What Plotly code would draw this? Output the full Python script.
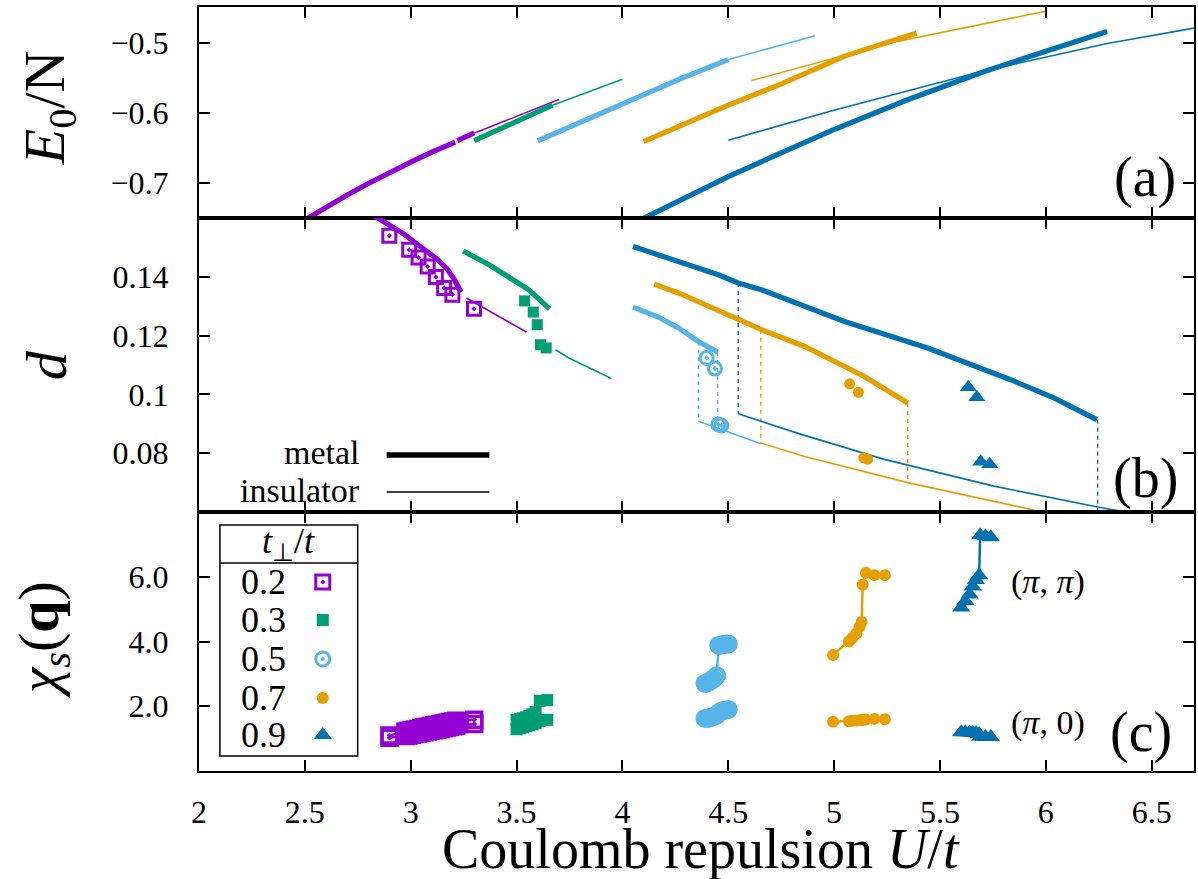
import plotly.graph_objects as go

# ---------------- colours ----------------
PURPLE = '#9400D3'; GREEN = '#009E73'; LBLUE = '#56B4E9'; ORANGE = '#E69F00'; BLUE = '#0072B2'
FONT = 'Liberation Serif'

# ---------------- panel (a): E0/N ----------------
a_p_met_U = [2.50, 2.60, 2.70, 2.80, 2.90, 3.00, 3.10, 3.21, None, 3.22, 3.30]
a_p_met_E = [-0.7527, -0.7346, -0.7173, -0.7008, -0.6851, -0.6702, -0.6561, -0.6417, None, -0.6395, -0.6285]
a_p_ins_U = [3.30, 3.70]
a_p_ins_E = [-0.6290, -0.5810]
a_g_met_U = [3.30, 3.67]
a_g_met_E = [-0.6396, -0.5890]
a_g_ins_U = [3.67, 4.00]
a_g_ins_E = [-0.5890, -0.5520]
a_l_met_U = [3.60, 4.00, 4.27, 4.50]
a_l_met_E = [-0.6400, -0.5870, -0.5520, -0.5240]
a_l_ins_U = [4.50, 4.91]
a_l_ins_E = [-0.5240, -0.4900]
a_o_met_U = [4.10, 4.27, 4.50, 4.74, 5.05, 5.39]
a_o_met_E = [-0.6410, -0.6190, -0.5890, -0.5600, -0.5190, -0.4860]
a_o_ins_U = [4.61, 5.27, 6.00]
a_o_ins_E = [-0.5540, -0.5000, -0.4550]
a_b_met_U = [4.09, 4.27, 4.50, 4.75, 4.99, 5.35, 5.71, 6.00, 6.29]
a_b_met_E = [-0.7520, -0.7250, -0.6910, -0.6570, -0.6250, -0.5810, -0.5410, -0.5120, -0.4840]
a_b_ins_U = [4.50, 4.99, 5.71, 6.29, 6.72]
a_b_ins_E = [-0.6390, -0.5970, -0.5400, -0.5010, -0.4780]

# ---------------- panel (b): d ----------------
b_p_met_U = [2.82, 2.844, 2.963, 3.056, 3.128, 3.175, 3.207, 3.238]
b_p_met_d = [0.1612, 0.1600, 0.1548, 0.1497, 0.1458, 0.1424, 0.1390, 0.1348]
b_p_ins_U = [3.263, 3.547]
b_p_ins_d = [0.1328, 0.1212]
b_p_pts_U = [2.899, 2.993, 3.037, 3.080, 3.119, 3.158, 3.197, 3.299]
b_p_pts_d = [0.1540, 0.1492, 0.1466, 0.1435, 0.1399, 0.1362, 0.1339, 0.1291]

b_g_met_U = [3.248, 3.370, 3.558, 3.606, 3.656]
b_g_met_d = [0.1488, 0.1441, 0.1356, 0.1322, 0.1291]
b_g_ins_U = [3.684, 3.747, 3.948]
b_g_ins_d = [0.1152, 0.1124, 0.1054]
b_g_pts_U = [3.538, 3.579, 3.598, 3.613, 3.640]
b_g_pts_d = [0.1318, 0.1280, 0.1237, 0.1169, 0.1158]

b_l_met_U = [4.050, 4.170, 4.265, 4.359, 4.450]
b_l_met_d = [0.1297, 0.1263, 0.1226, 0.1180, 0.1144]
b_l_ins_U = [4.359, 4.654]
b_l_ins_d = [0.0909, 0.0832]
b_l_pts_U = [4.398, 4.437, 4.453, 4.467]
b_l_pts_d = [0.1124, 0.1088, 0.0898, 0.0894]
b_l_tr_U = [4.359, 4.450]
b_l_tr_top = [0.1180, 0.1144]
b_l_tr_bot = [0.0909, 0.0895]

b_o_met_U = [4.150, 4.265, 4.657, 4.861, 5.143, 5.348]
b_o_met_d = [0.1375, 0.1345, 0.1220, 0.1163, 0.1061, 0.0971]
b_o_ins_U = [4.654, 4.861, 5.348, 5.928, 5.970]
b_o_ins_d = [0.0835, 0.0789, 0.0700, 0.0609, 0.0598]
b_o_pts_U = [5.073, 5.115, 5.140, 5.159]
b_o_pts_d = [0.1036, 0.1007, 0.0784, 0.0779]
b_o_tr_U = [4.654, 5.348]
b_o_tr_top = [0.1220, 0.0971]
b_o_tr_bot = [0.0835, 0.0700]

b_b_met_U = [4.050, 4.265, 4.453, 4.547, 4.657, 5.049, 5.442, 5.834, 6.038, 6.241]
b_b_met_d = [0.1503, 0.1452, 0.1407, 0.1379, 0.1356, 0.1248, 0.1158, 0.1050, 0.0988, 0.0914]
b_b_ins_U = [4.547, 4.845, 5.237, 5.755, 6.245, 6.352, 6.400]
b_b_ins_d = [0.0934, 0.0864, 0.0779, 0.0688, 0.0617, 0.0603, 0.0592]
b_b_pts_U = [5.634, 5.674, 5.693, 5.735]
b_b_pts_d = [0.1024, 0.0990, 0.0771, 0.0762]
b_b_tr_U = [4.547, 6.245]
b_b_tr_top = [0.1379, 0.0914]
b_b_tr_bot = [0.0934, 0.0600]

# ---------------- panel (c): chi_s(q) ----------------
c_p_U = [2.90, 2.975, 2.99, 3.005, 3.02, 3.035, 3.05, 3.065, 3.08, 3.095, 3.11,
         3.125, 3.14, 3.155, 3.17, 3.185, 3.20, 3.215, 3.30]
c_p_pp = [1.10, 1.22, 1.24, 1.26, 1.28, 1.30, 1.33, 1.35, 1.37, 1.39, 1.41,
          1.43, 1.45, 1.47, 1.49, 1.51, 1.53, 1.55, 1.58]
c_p_p0 = [1.03, 1.08, 1.10, 1.12, 1.14, 1.16, 1.18, 1.20, 1.22, 1.24, 1.26,
          1.28, 1.30, 1.32, 1.34, 1.36, 1.38, 1.40, 1.45]

c_g_U = [3.50, 3.515, 3.53, 3.545, 3.56, 3.575, 3.59, 3.61, 3.645]
c_g_pp = [1.58, 1.60, 1.63, 1.66, 1.70, 1.75, 1.82, 2.17, 2.19]
c_g_p0 = [1.29, 1.32, 1.35, 1.38, 1.41, 1.44, 1.48, 1.55, 1.58]

c_l_U = [4.39, 4.40, 4.41, 4.42, 4.43, 4.445, 4.455, 4.47, 4.48, 4.49, 4.50]
c_l_pp = [2.70, 2.72, 2.76, 2.80, 2.84, 2.94, 3.88, 3.90, 3.91, 3.92, 3.92]
c_l_p0 = [1.62, 1.63, 1.64, 1.66, 1.68, 1.72, 1.80, 1.85, 1.87, 1.88, 1.90]

c_o_U = [4.995, 5.07, 5.085, 5.105, 5.12, 5.13, 5.135, 5.15, 5.19, 5.24]
c_o_pp = [3.58, 4.00, 4.10, 4.25, 4.45, 4.60, 5.75, 6.12, 6.05, 6.05]
c_o_p0 = [1.52, 1.54, 1.55, 1.56, 1.57, 1.57, 1.58, 1.59, 1.61, 1.60]

c_b_U = [5.60, 5.62, 5.64, 5.655, 5.67, 5.685, 5.69, 5.715, 5.74]
c_b_pp = [5.05, 5.25, 5.45, 5.70, 5.90, 6.05, 7.28, 7.25, 7.22]
c_b_p0 = [1.20, 1.20, 1.19, 1.18, 1.17, 1.14, 1.06, 1.05, 1.05]

# ---------------- tick labels ----------------
x_ticks = [2, 2.5, 3, 3.5, 4, 4.5, 5, 5.5, 6, 6.5]
x_ticktext = ['2', '2.5', '3', '3.5', '4', '4.5', '5', '5.5', '6', '6.5']
a_ticks = [-0.7, -0.6, -0.5]
a_ticktext = ['\u22120.7', '\u22120.6', '\u22120.5']
b_ticks = [0.08, 0.10, 0.12, 0.14]
b_ticktext = ['0.08', '0.1', '0.12', '0.14']
c_ticks = [2, 4, 6]
c_ticktext = ['2.0', '4.0', '6.0']

tperp_labels = ['0.2', '0.3', '0.5', '0.7', '0.9']
colors = [PURPLE, GREEN, LBLUE, ORANGE, BLUE]
symbols = ['square-open-dot', 'square', 'circle-open-dot', 'circle', 'triangle-up']
msizes_b = [13, 11, 13, 11, 15]
msizes_c = [15, 12, 15, 12, 16]
mlw_b = [3, 0, 3, 0, 0]
mlw_c = [3.5, 0, 4, 0, 0]

THICK = 5.2
THIN = 1.6

fig = go.Figure()


def line(U, y, color, width, ax, dash=None):
    fig.add_trace(go.Scatter(x=U, y=y, mode='lines', xaxis=ax[0], yaxis=ax[1],
                             line=dict(color=color, width=width, dash=dash),
                             showlegend=False, hoverinfo='skip', connectgaps=False))


def marks(U, y, i, ax, sizes, lws, mode='markers', lw=2.5):
    fig.add_trace(go.Scatter(x=U, y=y, mode=mode, xaxis=ax[0], yaxis=ax[1],
                             line=dict(color=colors[i], width=lw),
                             marker=dict(symbol=symbols[i], size=sizes[i], color=colors[i],
                                         line=dict(color=colors[i], width=lws[i])),
                             showlegend=False, hoverinfo='skip', cliponaxis=False))


AA = ('x', 'y'); BB = ('x2', 'y2'); CC = ('x3', 'y3')

# panel (a)
line(a_p_met_U, a_p_met_E, PURPLE, THICK, AA); line(a_p_ins_U, a_p_ins_E, PURPLE, THIN, AA)
line(a_g_met_U, a_g_met_E, GREEN, THICK, AA); line(a_g_ins_U, a_g_ins_E, GREEN, THIN, AA)
line(a_l_met_U, a_l_met_E, LBLUE, THICK, AA); line(a_l_ins_U, a_l_ins_E, LBLUE, THIN, AA)
line(a_o_met_U, a_o_met_E, ORANGE, THICK, AA); line(a_o_ins_U, a_o_ins_E, ORANGE, THIN, AA)
line(a_b_met_U, a_b_met_E, BLUE, THICK, AA); line(a_b_ins_U, a_b_ins_E, BLUE, THIN, AA)


def trans(U, top, bot, color):
    xs, ys = [], []
    for u, t, b in zip(U, top, bot):
        xs += [u, u, None]; ys += [t, b, None]
    line(xs, ys, color, 1.4, BB, dash='4px,4px')


# panel (b)
trans(b_l_tr_U, b_l_tr_top, b_l_tr_bot, LBLUE)
trans(b_o_tr_U, b_o_tr_top, b_o_tr_bot, ORANGE)
trans(b_b_tr_U, b_b_tr_top, b_b_tr_bot, BLUE)
line(b_p_met_U, b_p_met_d, PURPLE, THICK, BB); line(b_p_ins_U, b_p_ins_d, PURPLE, THIN, BB)
line(b_g_met_U, b_g_met_d, GREEN, THICK, BB); line(b_g_ins_U, b_g_ins_d, GREEN, THIN, BB)
line(b_l_met_U, b_l_met_d, LBLUE, THICK, BB); line(b_l_ins_U, b_l_ins_d, LBLUE, THIN, BB)
line(b_o_met_U, b_o_met_d, ORANGE, THICK, BB); line(b_o_ins_U, b_o_ins_d, ORANGE, THIN, BB)
line(b_b_met_U, b_b_met_d, BLUE, THICK, BB); line(b_b_ins_U, b_b_ins_d, BLUE, THIN, BB)
marks(b_p_pts_U, b_p_pts_d, 0, BB, msizes_b, mlw_b)
marks(b_g_pts_U, b_g_pts_d, 1, BB, msizes_b, mlw_b)
marks(b_l_pts_U, b_l_pts_d, 2, BB, msizes_b, mlw_b)
marks(b_o_pts_U, b_o_pts_d, 3, BB, msizes_b, mlw_b)
marks(b_b_pts_U, b_b_pts_d, 4, BB, msizes_b, mlw_b)

# panel (c)
for i, (U, pp, p0) in enumerate([(c_p_U, c_p_pp, c_p_p0), (c_g_U, c_g_pp, c_g_p0),
                                  (c_l_U, c_l_pp, c_l_p0), (c_o_U, c_o_pp, c_o_p0),
                                  (c_b_U, c_b_pp, c_b_p0)]):
    marks(U, p0, i, CC, msizes_c, mlw_c, mode='lines+markers')
    marks(U, pp, i, CC, msizes_c, mlw_c, mode='lines+markers')

# ---------------- geometry helpers (pixel -> paper) ----------------
L, R, T, B = 199, 2, 7, 108
W, H = 1198, 879
PW, PH = W - L - R, H - T - B


def px(x):
    return (x - L) / PW


def py(y):
    return (H - B - y) / PH


# legend-key markers on an overlay of panel (c), in panel fractions
CY0, CY1 = 512, 771
key_y_px = [582, 620, 659, 698, 735]
key_x_px = 323
for i in range(5):
    fig.add_trace(go.Scatter(x=[px(key_x_px)], y=[(CY1 - key_y_px[i]) / (CY1 - CY0)],
                             mode='markers', xaxis='x4', yaxis='y4',
                             marker=dict(symbol=symbols[i], size=msizes_b[i] + 1, color=colors[i],
                                         line=dict(color=colors[i], width=mlw_b[i])),
                             showlegend=False, hoverinfo='skip', cliponaxis=False))

axis_common = dict(showline=True, linewidth=2, linecolor='black', mirror='ticks',
                   ticks='inside', ticklen=11, tickwidth=1.5, tickcolor='black',
                   showgrid=False, zeroline=False,
                   tickfont=dict(family=FONT, size=32, color='black'))

dom_a = [py(218), 1.0]
dom_b = [py(512), py(218)]
dom_c = [0.0, py(512)]

layout = dict(
    width=W, height=H, margin=dict(l=L, r=R, t=T, b=B),
    paper_bgcolor='white', plot_bgcolor='rgba(0,0,0,0)',
    font=dict(family=FONT, color='black'),
    showlegend=False,
    xaxis=dict(axis_common, domain=[0, 1], range=[2, 6.7], anchor='y',
               tickvals=x_ticks, ticktext=x_ticktext, showticklabels=False),
    yaxis=dict(axis_common, domain=dom_a, range=[-0.75, -0.449], anchor='x',
               tickvals=a_ticks, ticktext=a_ticktext, ticklabelstandoff=22),
    xaxis2=dict(axis_common, domain=[0, 1], range=[2, 6.7], anchor='y2',
                tickvals=x_ticks, ticktext=x_ticktext, showticklabels=False),
    yaxis2=dict(axis_common, domain=dom_b, range=[0.06, 0.16], anchor='x2',
                tickvals=b_ticks, ticktext=b_ticktext, ticklabelstandoff=22),
    xaxis3=dict(axis_common, domain=[0, 1], range=[2, 6.7], anchor='y3',
                tickvals=x_ticks, ticktext=x_ticktext, ticklabelstandoff=12),
    yaxis3=dict(axis_common, domain=dom_c, range=[0, 8.0], anchor='x3',
                tickvals=c_ticks, ticktext=c_ticktext, ticklabelstandoff=22),
    xaxis4=dict(overlaying='x3', range=[0, 1], visible=False, anchor='y4'),
    yaxis4=dict(overlaying='y3', range=[0, 1], visible=False, anchor='x4'),
)
fig.update_layout(**layout)

ann = []


def text(x, y, s, size, xanchor='center', angle=0):
    ann.append(dict(x=px(x), y=py(y), xref='paper', yref='paper', text=s, showarrow=False,
                    xanchor=xanchor, yanchor='middle', textangle=angle,
                    font=dict(family=FONT, size=size, color='black')))


text(702, 849, 'Coulomb repulsion <i>U</i>/<i>t</i>', 56)
text(48, 108, '<i>E</i><sub>0</sub>/N', 58, angle=-90)
text(46, 365, '<i>d</i>', 58, angle=-90)
text(42, 640, '<i>\u03c7</i><sub><i>s</i></sub>(<b>q</b>)', 58, angle=-90)
text(1147, 177, '(a)', 56)
text(1147, 478, '(b)', 56)
text(1143, 732, '(c)', 56)
text(1050, 582, '(<i>\u03c0</i>, <i>\u03c0</i>)', 34)
text(1050, 723, '(<i>\u03c0</i>, 0)', 34)
text(362, 452, 'metal', 34, xanchor='right')
text(362, 490, 'insulator', 34, xanchor='right')
text(289, 543, '<i>t</i><sub>\u22a5</sub>/<i>t</i>', 36)
for lab, yy in zip(tperp_labels, key_y_px):
    text(264, yy, lab, 36)

shapes = [
    dict(type='line', xref='paper', yref='paper', x0=px(387), x1=px(490), y0=py(455), y1=py(455),
         line=dict(color='black', width=5.5)),
    dict(type='line', xref='paper', yref='paper', x0=px(387), x1=px(490), y0=py(492), y1=py(492),
         line=dict(color='black', width=1.5)),
    dict(type='rect', xref='paper', yref='paper', x0=px(220), x1=px(358), y0=py(525), y1=py(756),
         line=dict(color='black', width=1.5)),
    dict(type='line', xref='paper', yref='paper', x0=px(220), x1=px(358), y0=py(563), y1=py(563),
         line=dict(color='black', width=1.5)),
]
fig.update_layout(annotations=ann, shapes=shapes)

fig.write_html('out.html')
